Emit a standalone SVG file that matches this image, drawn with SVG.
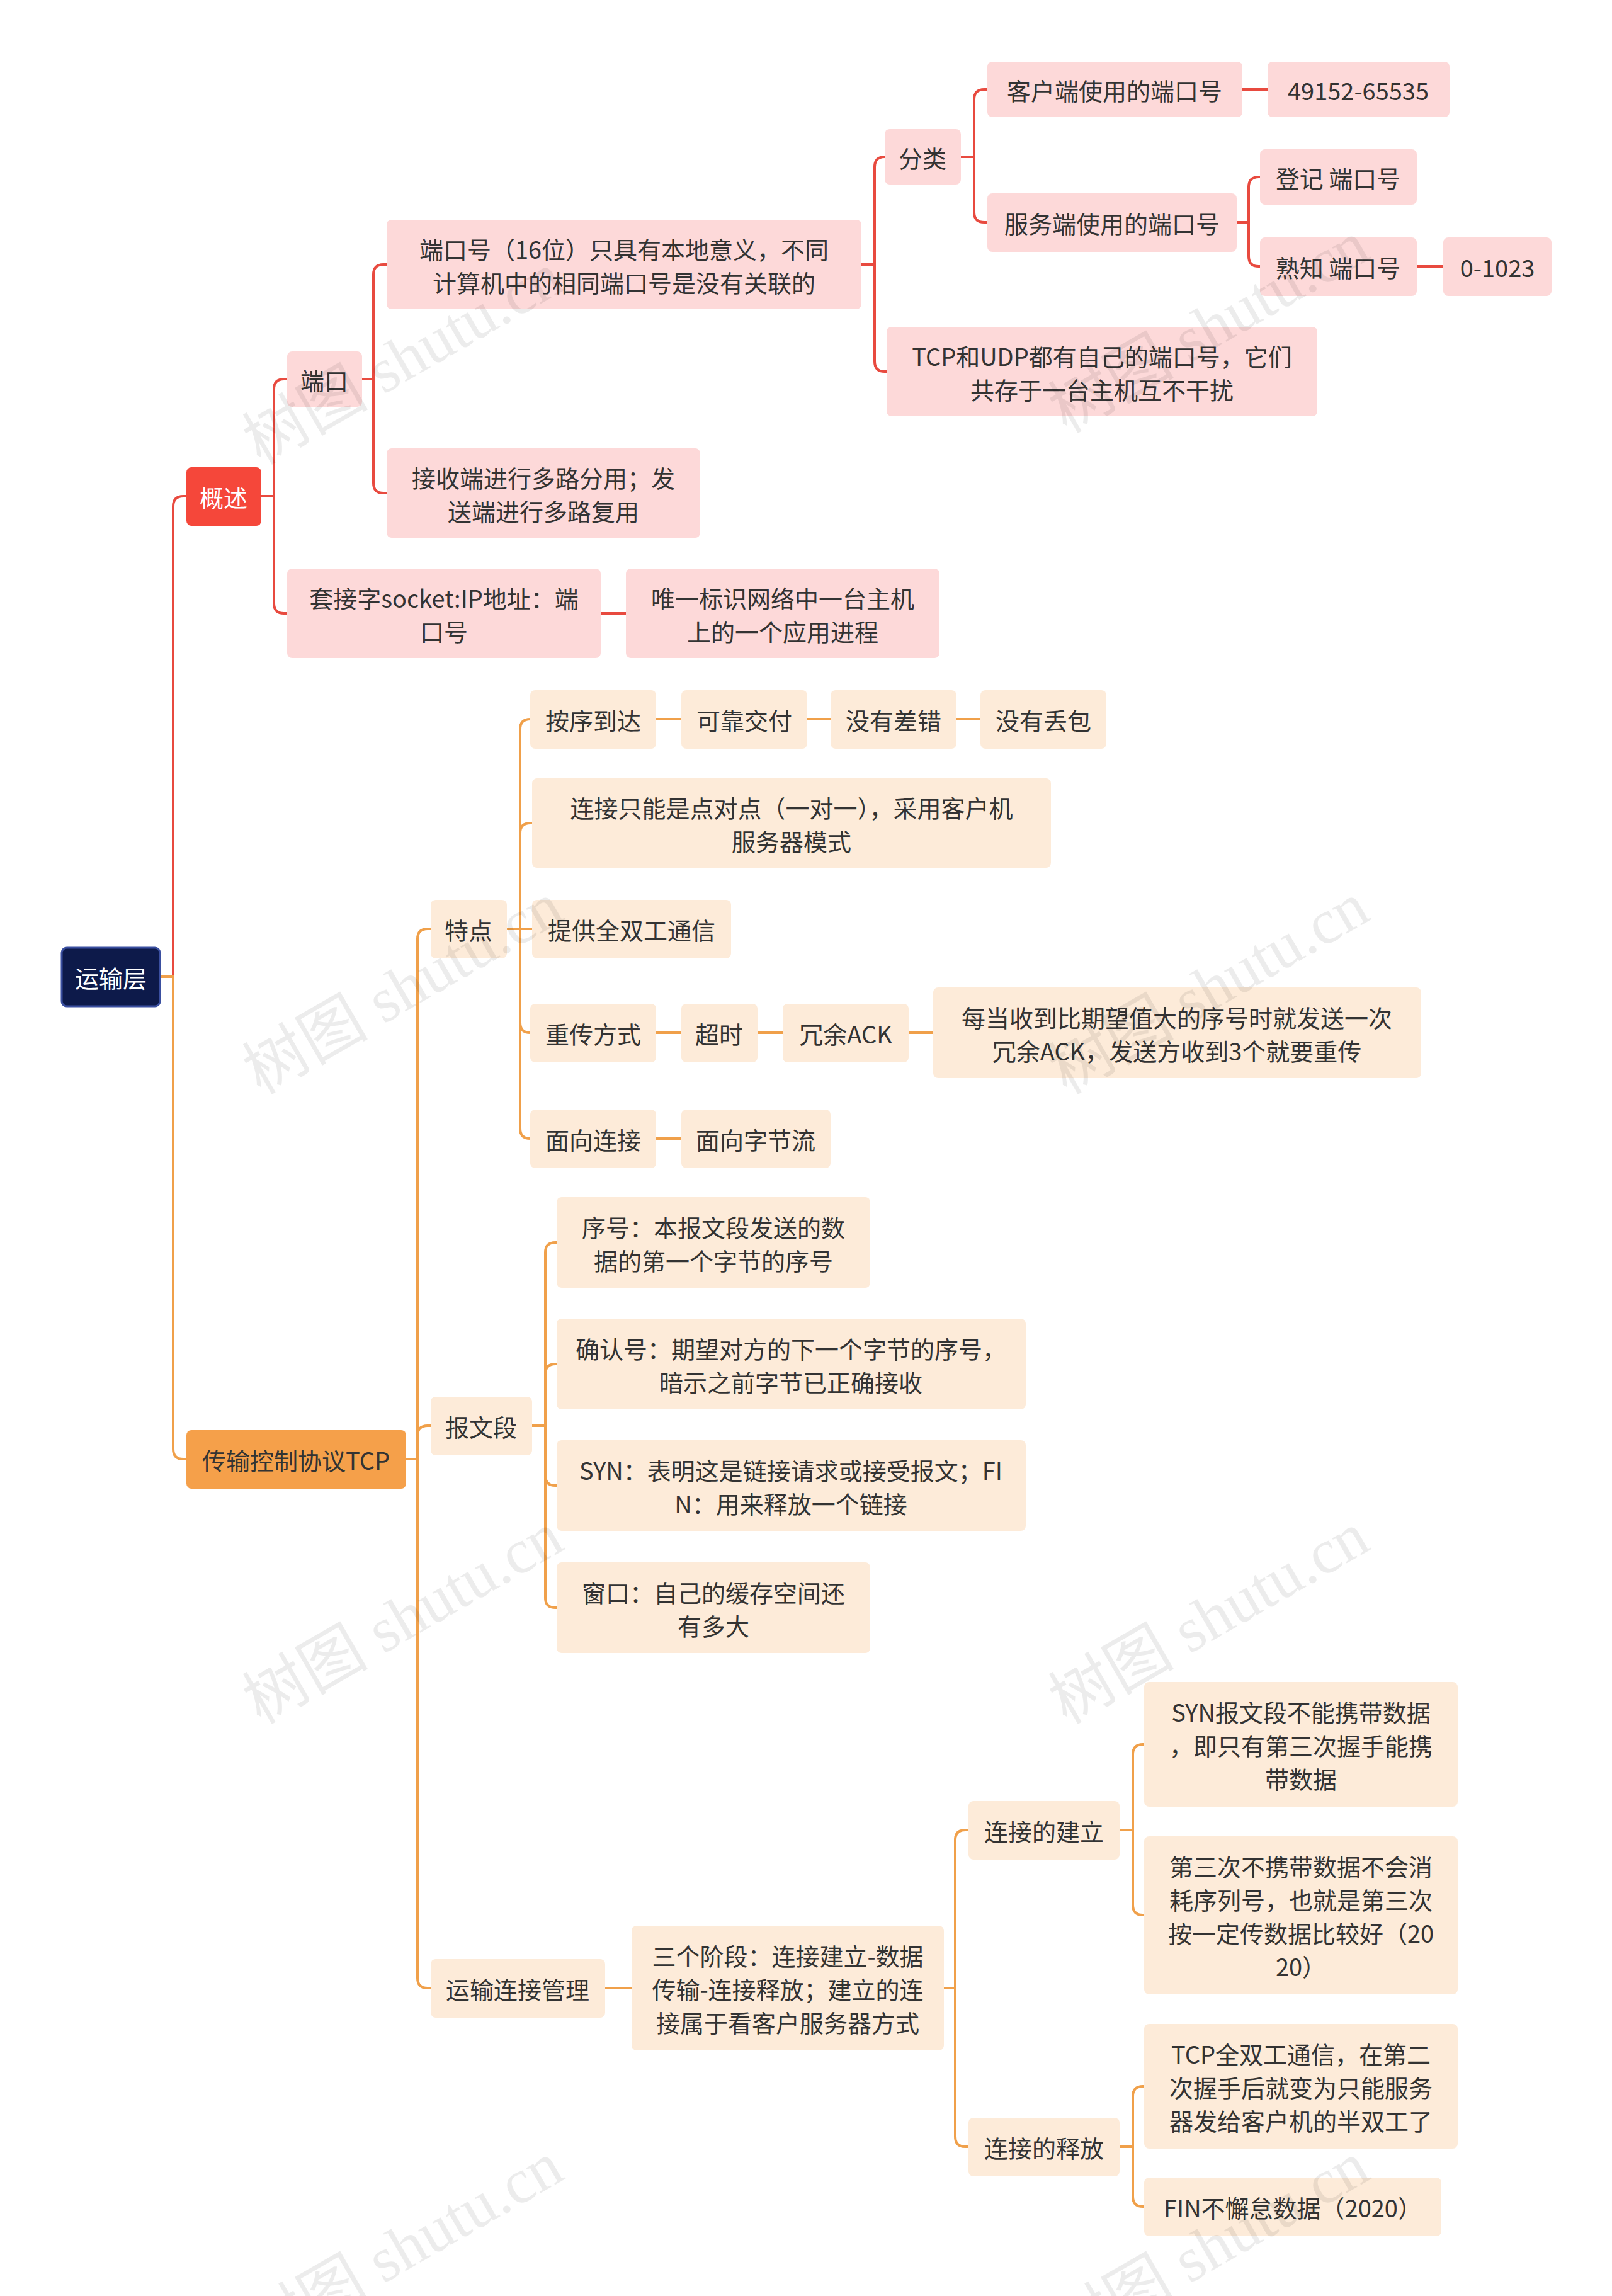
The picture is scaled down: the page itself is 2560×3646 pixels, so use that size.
<svg xmlns="http://www.w3.org/2000/svg" width="2560" height="3646" viewBox="0 0 2560 3646">
<style>
text{font-family:"Noto Sans CJK SC","Noto Sans",sans-serif;font-size:38px;text-anchor:middle;dominant-baseline:central;fill:#333}
.p rect{fill:#fdd9d9}
.o rect{fill:#fdebd9}
.w{fill:#fff}
.lr{fill:none;stroke:#e84a3f;stroke-width:4}
.lo{fill:none;stroke:#f0a04a;stroke-width:4}
.wm{font-size:100px;fill:#000;opacity:0.07;font-family:"Liberation Serif","Noto Sans CJK SC",serif}
</style>
<rect width="2560" height="3646" fill="#fff"/>
<g id="connectors">
<path class="lr" d="M254 1551 H275 V804 Q275 788 291 788 H296"/>
<path class="lo" d="M254 1551 H275 V2301 Q275 2317 291 2317 H296"/>
<path class="lr" d="M415 788 H435 V618 Q435 602 451 602 H456"/>
<path class="lr" d="M415 788 H435 V958 Q435 974 451 974 H456"/>
<path class="lr" d="M954 974 H994"/>
<path class="lr" d="M575 602 H593 V436 Q593 420 609 420 H614"/>
<path class="lr" d="M575 602 H593 V767 Q593 783 609 783 H614"/>
<path class="lr" d="M1368 420 H1389 V265 Q1389 249 1405 249"/>
<path class="lr" d="M1368 420 H1389 V574 Q1389 590 1405 590 H1408"/>
<path class="lr" d="M1526 249 H1547 V158 Q1547 142 1563 142 H1568"/>
<path class="lr" d="M1526 249 H1547 V337 Q1547 353 1563 353 H1568"/>
<path class="lr" d="M1973 142 H2013"/>
<path class="lr" d="M1964 353 H1983 V297 Q1983 281 1999 281 H2001"/>
<path class="lr" d="M1964 353 H1983 V407 Q1983 423 1999 423 H2001"/>
<path class="lr" d="M2250 423 H2292"/>
<path class="lo" d="M645 2317 H663 V1491 Q663 1475 679 1475 H684"/>
<path class="lo" d="M645 2317 H663 V2280 Q663 2264 679 2264 H684"/>
<path class="lo" d="M645 2317 H663 V3141 Q663 3157 679 3157 H684"/>
<path class="lo" d="M805 1475 H826 V1158 Q826 1142 842 1142"/>
<path class="lo" d="M805 1475 H826 V1323 Q826 1307 842 1307 H845"/>
<path class="lo" d="M805 1475 H845"/>
<path class="lo" d="M805 1475 H826 V1624 Q826 1640 842 1640"/>
<path class="lo" d="M805 1475 H826 V1792 Q826 1808 842 1808"/>
<path class="lo" d="M1042 1142 H1082 M1282 1142 H1319 M1519 1142 H1557"/>
<path class="lo" d="M1042 1640 H1082 M1203 1640 H1243 M1443 1640 H1482"/>
<path class="lo" d="M1042 1808 H1082"/>
<path class="lo" d="M845 2264 H866 V1989 Q866 1973 882 1973 H884"/>
<path class="lo" d="M845 2264 H866 V2182 Q866 2166 882 2166 H884"/>
<path class="lo" d="M845 2264 H866 V2343 Q866 2359 882 2359 H884"/>
<path class="lo" d="M845 2264 H866 V2537 Q866 2553 882 2553 H884"/>
<path class="lo" d="M961 3157 H1003"/>
<path class="lo" d="M1499 3157 H1517 V2922 Q1517 2906 1533 2906 H1538"/>
<path class="lo" d="M1499 3157 H1517 V3393 Q1517 3409 1533 3409 H1538"/>
<path class="lo" d="M1778 2906 H1799 V2786 Q1799 2770 1815 2770 H1817"/>
<path class="lo" d="M1778 2906 H1799 V3025 Q1799 3041 1815 3041 H1817"/>
<path class="lo" d="M1778 3409 H1799 V3329 Q1799 3313 1815 3313 H1817"/>
<path class="lo" d="M1778 3409 H1799 V3488 Q1799 3504 1815 3504 H1817"/>
</g>
<g id="root"><rect x="98" y="1505" width="156" height="93" rx="8" fill="#0d1a4a" stroke="#3a4fa0" stroke-width="3"/><text x="176" y="1551" class="w">运输层</text></g>
<g id="gaishu"><rect x="296" y="742" width="119" height="93" rx="8" fill="#f5473a"/><text x="355" y="788" class="w">概述</text></g>
<g id="tcp"><rect x="296" y="2271" width="349" height="93" rx="8" fill="#f5a04a"/><text x="470" y="2317">传输控制协议TCP</text></g>
<g class="p">
<g id="duankou"><rect x="456" y="558" width="119" height="88" rx="8"/><text x="515" y="602">端口</text></g>
<g id="dkh"><rect x="614" y="349" width="754" height="142" rx="8"/><text x="991" y="394">端口号（16位）只具有本地意义，不同</text><text x="991" y="447">计算机中的相同端口号是没有关联的</text></g>
<g id="jieshou"><rect x="614" y="712" width="498" height="142" rx="8"/><text x="863" y="757">接收端进行多路分用；发</text><text x="863" y="810">送端进行多路复用</text></g>
<g id="socket"><rect x="456" y="903" width="498" height="142" rx="8"/><text x="705" y="948">套接字socket:IP地址：端</text><text x="705" y="1001">口号</text></g>
<g id="weiyi"><rect x="994" y="903" width="498" height="142" rx="8"/><text x="1243" y="948">唯一标识网络中一台主机</text><text x="1243" y="1001">上的一个应用进程</text></g>
<g id="fenlei"><rect x="1405" y="205" width="121" height="88" rx="8"/><text x="1465" y="249">分类</text></g>
<g id="tcpudp"><rect x="1408" y="519" width="684" height="142" rx="8"/><text x="1750" y="564">TCP和UDP都有自己的端口号，它们</text><text x="1750" y="617">共存于一台主机互不干扰</text></g>
<g id="kehu"><rect x="1568" y="98" width="405" height="88" rx="8"/><text x="1770" y="142">客户端使用的端口号</text></g>
<g id="k49"><rect x="2013" y="98" width="289" height="88" rx="8"/><text x="2157" y="142">49152-65535</text></g>
<g id="fuwu"><rect x="1568" y="307" width="396" height="93" rx="8"/><text x="1766" y="353">服务端使用的端口号</text></g>
<g id="dengji"><rect x="2001" y="237" width="249" height="88" rx="8"/><text x="2125" y="281">登记 端口号</text></g>
<g id="shuzhi"><rect x="2001" y="377" width="249" height="93" rx="8"/><text x="2125" y="423">熟知 端口号</text></g>
<g id="k0"><rect x="2292" y="377" width="172" height="93" rx="8"/><text x="2378" y="423">0-1023</text></g>
</g>
<g class="o">
<g id="tedian"><rect x="684" y="1429" width="121" height="93" rx="8"/><text x="744" y="1475">特点</text></g>
<g id="bwd"><rect x="684" y="2218" width="161" height="93" rx="8"/><text x="764" y="2264">报文段</text></g>
<g id="ysgl"><rect x="684" y="3111" width="277" height="93" rx="8"/><text x="822" y="3157">运输连接管理</text></g>
<g id="anxu"><rect x="842" y="1096" width="200" height="93" rx="8"/><text x="942" y="1142">按序到达</text></g>
<g id="kekao"><rect x="1082" y="1096" width="200" height="93" rx="8"/><text x="1182" y="1142">可靠交付</text></g>
<g id="chacuo"><rect x="1319" y="1096" width="200" height="93" rx="8"/><text x="1419" y="1142">没有差错</text></g>
<g id="diubao"><rect x="1557" y="1096" width="200" height="93" rx="8"/><text x="1657" y="1142">没有丢包</text></g>
<g id="dian"><rect x="845" y="1236" width="824" height="142" rx="8"/><text x="1257" y="1281">连接只能是点对点（一对一），采用客户机</text><text x="1257" y="1334">服务器模式</text></g>
<g id="quan"><rect x="845" y="1429" width="316" height="93" rx="8"/><text x="1003" y="1475">提供全双工通信</text></g>
<g id="chong"><rect x="842" y="1594" width="200" height="93" rx="8"/><text x="942" y="1640">重传方式</text></g>
<g id="chaoshi"><rect x="1082" y="1594" width="121" height="93" rx="8"/><text x="1142" y="1640">超时</text></g>
<g id="rongyu"><rect x="1243" y="1594" width="200" height="93" rx="8"/><text x="1343" y="1640">冗余ACK</text></g>
<g id="meidang"><rect x="1482" y="1568" width="775" height="144" rx="8"/><text x="1869" y="1614">每当收到比期望值大的序号时就发送一次</text><text x="1869" y="1667">冗余ACK，发送方收到3个就要重传</text></g>
<g id="mxlj"><rect x="842" y="1762" width="200" height="93" rx="8"/><text x="942" y="1808">面向连接</text></g>
<g id="zjl"><rect x="1082" y="1762" width="237" height="93" rx="8"/><text x="1200" y="1808">面向字节流</text></g>
<g id="xuhao"><rect x="884" y="1901" width="498" height="144" rx="8"/><text x="1133" y="1947">序号：本报文段发送的数</text><text x="1133" y="2000">据的第一个字节的序号</text></g>
<g id="queren"><rect x="884" y="2094" width="745" height="144" rx="8"/><text x="1256" y="2140">确认号：期望对方的下一个字节的序号，</text><text x="1256" y="2193">暗示之前字节已正确接收</text></g>
<g id="syn"><rect x="884" y="2287" width="745" height="144" rx="8"/><text x="1256" y="2333">SYN：表明这是链接请求或接受报文；FI</text><text x="1256" y="2386">N：用来释放一个链接</text></g>
<g id="chuangkou"><rect x="884" y="2481" width="498" height="144" rx="8"/><text x="1133" y="2527">窗口：自己的缓存空间还</text><text x="1133" y="2580">有多大</text></g>
<g id="sange"><rect x="1003" y="3058" width="496" height="198" rx="8"/><text x="1251" y="3104">三个阶段：连接建立-数据</text><text x="1251" y="3157">传输-连接释放；建立的连</text><text x="1251" y="3210">接属于看客户服务器方式</text></g>
<g id="jianli"><rect x="1538" y="2860" width="240" height="93" rx="8"/><text x="1658" y="2906">连接的建立</text></g>
<g id="shifang"><rect x="1538" y="3363" width="240" height="93" rx="8"/><text x="1658" y="3409">连接的释放</text></g>
<g id="synbw"><rect x="1817" y="2671" width="498" height="198" rx="8"/><text x="2066" y="2717">SYN报文段不能携带数据</text><text x="2066" y="2770">，即只有第三次握手能携</text><text x="2066" y="2823">带数据</text></g>
<g id="disan"><rect x="1817" y="2916" width="498" height="251" rx="8"/><text x="2066" y="2962">第三次不携带数据不会消</text><text x="2066" y="3015">耗序列号，也就是第三次</text><text x="2066" y="3068">按一定传数据比较好（20</text><text x="2066" y="3121">20）</text></g>
<g id="qsg"><rect x="1817" y="3214" width="498" height="198" rx="8"/><text x="2066" y="3260">TCP全双工通信，在第二</text><text x="2066" y="3313">次握手后就变为只能服务</text><text x="2066" y="3366">器发给客户机的半双工了</text></g>
<g id="fin"><rect x="1817" y="3458" width="472" height="93" rx="8"/><text x="2053" y="3504">FIN不懈怠数据（2020）</text></g>
</g>
<g id="watermarks">
<text class="wm" x="640" y="570" transform="rotate(-30 640 570)">树图 shutu.cn</text>
<text class="wm" x="1920" y="520" transform="rotate(-30 1920 520)">树图 shutu.cn</text>
<text class="wm" x="640" y="1570" transform="rotate(-30 640 1570)">树图 shutu.cn</text>
<text class="wm" x="1920" y="1570" transform="rotate(-30 1920 1570)">树图 shutu.cn</text>
<text class="wm" x="640" y="2570" transform="rotate(-30 640 2570)">树图 shutu.cn</text>
<text class="wm" x="1920" y="2570" transform="rotate(-30 1920 2570)">树图 shutu.cn</text>
<text class="wm" x="640" y="3570" transform="rotate(-30 640 3570)">树图 shutu.cn</text>
<text class="wm" x="1920" y="3570" transform="rotate(-30 1920 3570)">树图 shutu.cn</text>
</g>
</svg>
